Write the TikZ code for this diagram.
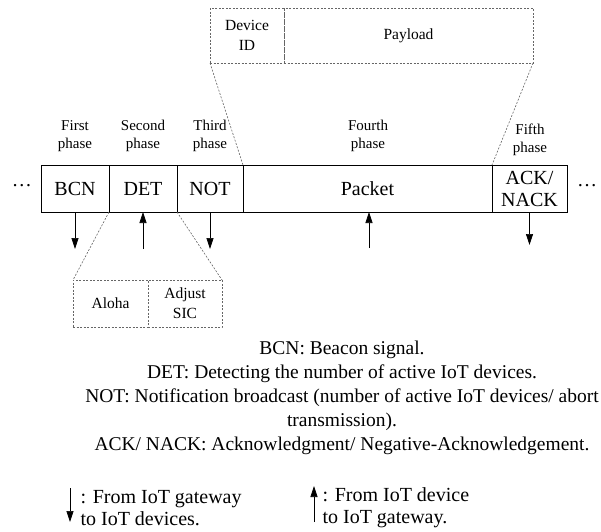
\documentclass[tikz,border=0pt]{standalone}
\usepackage{fontspec}
\setmainfont{Liberation Serif}
\usetikzlibrary{arrows.meta}
\tikzset{
  phasebox/.style={draw, line width=0.7pt, minimum height=47pt, inner sep=0pt, outer sep=0pt, align=center, font=\fontsize{20}{22}\selectfont},
  subbox/.style={draw=gray!80!black, dash pattern=on 2pt off 1.5pt, line width=0.7pt, inner sep=0pt, outer sep=0pt, align=center, font=\fontsize{15.5}{20}\selectfont},
  zoomline/.style={draw=gray!80!black, dash pattern=on 2pt off 1.5pt, line width=0.6pt},
  flow/.style={-{Triangle[length=11pt,width=7pt]}, line width=0.7pt},
  phaselabel/.style={align=center, font=\fontsize{15}{18}\selectfont}
}
\begin{document}
\begin{tikzpicture}[x=1pt,y=-1pt]
  \useasboundingbox (0,0) rectangle (601,531);
  % frame of the five phases
  \node[phasebox, minimum width=68pt] (BCN) at (75,188.5) {BCN};
  \node[phasebox, minimum width=68pt] (DET) at (143,188.5) {DET};
  \node[phasebox, minimum width=66pt] (NOT) at (210,188.5) {NOT};
  \node[phasebox, minimum width=249pt] (PKT) at (367.5,188.5) {Packet};
  \node[phasebox, minimum width=75pt] (ACK) at (529.5,188.5) {ACK/\\NACK};
  \node[font=\fontsize{20}{22}\selectfont] (ldots) at (22,186) {\dots};
  \node[font=\fontsize{20}{22}\selectfont] (rdots) at (587,186) {\dots};
  \node[phaselabel] (ph1) at (75,136) {First\\phase};
  \node[phaselabel] (ph2) at (143,136) {Second\\phase};
  \node[phaselabel] (ph3) at (210,136) {Third\\phase};
  \node[phaselabel] (ph4) at (368,136) {Fourth\\phase};
  \node[phaselabel] (ph5) at (530,140) {Fifth\\phase};
  % directions
  \coordinate (a1) at (75,249);
  \coordinate (a2) at (143,249);
  \coordinate (a3) at (210,249);
  \coordinate (a4) at (369,248);
  \coordinate (a5) at (529.5,245);
  \draw[flow] (BCN.south) -- (a1);
  \draw[flow] (a2) -- (DET.south);
  \draw[flow] (NOT.south) -- (a3);
  \draw[flow] (a4) -- (PKT.south -| a4);
  \draw[flow] (ACK.south) -- (a5);
  % packet fields
  \node[subbox, minimum width=74pt, minimum height=55pt] (devid) at (247,35.5) {Device\\ID};
  \node[subbox, minimum width=249pt, minimum height=55pt] (payload) at (408.5,35.5) {Payload};
  \draw[zoomline] (devid.south west) -- (NOT.north east);
  \draw[zoomline] (payload.south east) -- (PKT.north east);
  % detection methods
  \node[subbox, minimum width=75pt, minimum height=47pt] (aloha) at (110.5,303.5) {Aloha};
  \node[subbox, minimum width=74pt, minimum height=47pt] (sic) at (185,303.5) {Adjust\\SIC};
  \draw[zoomline] (DET.south west) -- (aloha.north west);
  \draw[zoomline] (DET.south east) -- (sic.north east);
  % notes
  \node[align=center, font=\fontsize{19.5}{24}\selectfont] (notes) at (342,398) {BCN: Beacon signal.\\DET: Detecting the number of active IoT devices.\\NOT: Notification broadcast (number of active IoT devices/ abort\\transmission).\\ACK/ NACK: Acknowledgment/ Negative-Acknowledgement.};
  % legend
  \coordinate (d1) at (70,488);
  \coordinate (d2) at (70,522);
  \coordinate (u1) at (314,522);
  \coordinate (u2) at (314,486);
  \draw[flow] (d1) -- (d2);
  \draw[flow] (u1) -- (u2);
  \node[anchor=west, align=left, font=\fontsize{20}{22}\selectfont] (leg1) at (77,508) {: From IoT gateway\\to IoT devices.};
  \node[anchor=west, align=left, font=\fontsize{20}{22}\selectfont] (leg2) at (319,508) {: From IoT device\\to IoT gateway.};
\end{tikzpicture}
\end{document}
